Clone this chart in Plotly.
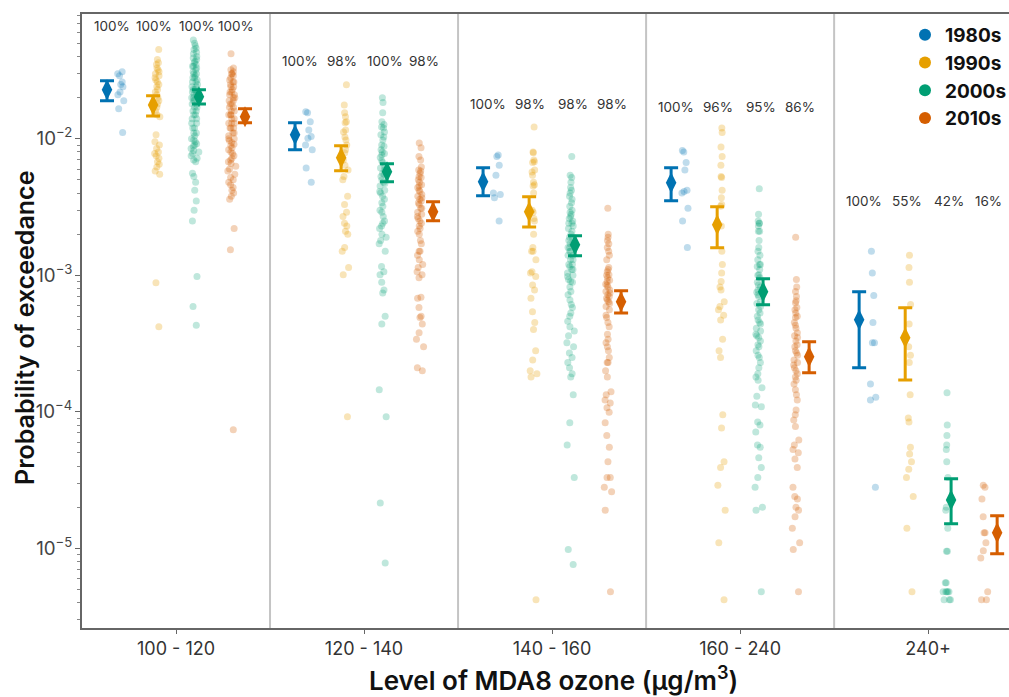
import math
import plotly.graph_objects as go

groups = ["100 - 120", "120 - 140", "140 - 160", "160 - 240", "240+"]
decades = ["1980s", "1990s", "2000s", "2010s"]
colors = ["#0072B2", "#E69F00", "#009E73", "#D55E00"]
point_colors = ["rgba(0,114,178,0.25)", "rgba(230,159,0,0.28)",
                "rgba(0,158,115,0.25)", "rgba(213,94,0,0.28)"]

# percentage labels per group (rows) and decade (cols)
pct_labels = [
    ["100%", "100%", "100%", "100%"],
    ["100%", "98%", "100%", "98%"],
    ["100%", "98%", "98%", "98%"],
    ["100%", "96%", "95%", "86%"],
    ["100%", "55%", "42%", "16%"],
]
label_height = [0.067, 0.037, 0.018, 0.017, 0.0035]

# means and confidence intervals per group
mean_1980s = [0.0229, 0.0107, 0.00484, 0.00477, 0.000472]
hi_1980s = [0.0266, 0.0131, 0.00614, 0.00614, 0.000757]
lo_1980s = [0.0190, 0.0083, 0.00382, 0.00352, 0.00021]

mean_1990s = [0.0177, 0.00726, 0.00292, 0.00234, 0.000348]
hi_1990s = [0.0207, 0.0089, 0.00376, 0.00318, 0.000578]
lo_1990s = [0.0147, 0.00583, 0.00226, 0.00159, 0.000171]

mean_2000s = [0.0203, 0.00573, 0.00167, 0.000757, 0.0000226]
hi_2000s = [0.0229, 0.00656, 0.00195, 0.000942, 0.0000323]
lo_2000s = [0.0180, 0.00484, 0.00139, 0.000608, 0.0000151]

mean_2010s = [0.0145, 0.00292, 0.00064, 0.000253, 0.000013]
hi_2010s = [0.0166, 0.00345, 0.00077, 0.000326, 0.0000173]
lo_2010s = [0.0131, 0.00251, 0.00053, 0.000193, 0.0000091]

# individual station values
pts_1980s = [
    [0.031, 0.030, 0.029, 0.026, 0.025, 0.024, 0.022, 0.021, 0.019, 0.0166, 0.0111],
    [0.0158, 0.0155, 0.0133, 0.0116, 0.0104, 0.0101, 0.0090, 0.0083, 0.0061, 0.0048],
    [0.0076, 0.0074, 0.0064, 0.0054, 0.0040, 0.0039, 0.0037, 0.0025],
    [0.0082, 0.0080, 0.0067, 0.0059, 0.0042, 0.0041, 0.0040, 0.0031, 0.0025, 0.0016],
    [0.0015, 0.00104, 0.00071, 0.00045, 0.00032, 0.00032, 0.00016, 0.000128, 0.000122, 0.000028],
]

pts_1990s = [
    [0.045, 0.038, 0.036, 0.035, 0.033, 0.032, 0.031, 0.030, 0.029, 0.028, 0.027, 0.026,
     0.025, 0.024, 0.023, 0.022, 0.021, 0.020, 0.019, 0.018, 0.017, 0.016, 0.015, 0.0145,
     0.0107, 0.0095, 0.0090, 0.0085, 0.0080, 0.0078, 0.0075, 0.0072, 0.0068, 0.0065,
     0.0062, 0.0058, 0.0055, 0.00088, 0.00042],
    [0.0249, 0.0177, 0.0155, 0.0145, 0.0133, 0.0131, 0.0116, 0.0112, 0.0103, 0.0098,
     0.0090, 0.0083, 0.0079, 0.0070, 0.0064, 0.0059, 0.0053, 0.0050, 0.0038, 0.0033,
     0.0029, 0.0027, 0.0024, 0.0023, 0.0021, 0.0020, 0.0016, 0.0015, 0.00114, 0.00101,
     0.000092],
    [0.0122, 0.0080, 0.0079, 0.0070, 0.0068, 0.0067, 0.0059, 0.0057, 0.0054, 0.0048,
     0.0046, 0.0045, 0.0040, 0.0030, 0.0029, 0.0026, 0.0025, 0.0020, 0.0016, 0.0015,
     0.0015, 0.0013, 0.00106, 0.00104, 0.00098, 0.00085, 0.00078, 0.00068, 0.00054,
     0.00045, 0.00040, 0.00028, 0.00024, 0.00020, 0.00019, 0.00018, 0.0000042],
    [0.0120, 0.0111, 0.0087, 0.0074, 0.0064, 0.0053, 0.0052, 0.0042, 0.0037, 0.0033,
     0.0032, 0.0023, 0.0015, 0.0012, 0.00104, 0.00090, 0.00082, 0.00078, 0.00064,
     0.00059, 0.00056, 0.00051, 0.00047, 0.00034, 0.00028, 0.00025, 0.000095, 0.000076,
     0.000043, 0.000039, 0.000029, 0.000019, 0.000011, 0.0000042],
    [0.0014, 0.00114, 0.00089, 0.00061, 0.00044, 0.00030, 0.00026, 0.00023, 0.000133,
     0.000090, 0.000084, 0.000055, 0.000049, 0.000043, 0.000038, 0.000033, 0.000024,
     0.000014, 0.0000048],
]

pts_2000s = [
    [0.053, 0.050, 0.048, 0.046, 0.045, 0.043, 0.042, 0.040, 0.039, 0.038, 0.037, 0.036,
     0.035, 0.034, 0.034, 0.033, 0.032, 0.031, 0.030, 0.030, 0.029, 0.028, 0.028, 0.027,
     0.026, 0.026, 0.025, 0.024, 0.024, 0.023, 0.023, 0.022, 0.022, 0.021, 0.021, 0.020,
     0.020, 0.019, 0.019, 0.018, 0.018, 0.017, 0.017, 0.016, 0.016, 0.015, 0.015, 0.014,
     0.014, 0.013, 0.013, 0.012, 0.012, 0.011, 0.011, 0.0105, 0.010, 0.0098, 0.0095,
     0.0092, 0.009, 0.0088, 0.0085, 0.0082, 0.008, 0.0078, 0.0075, 0.0072, 0.007, 0.0068,
     0.0056, 0.0053, 0.0048, 0.0042, 0.0035, 0.0030, 0.0025, 0.00098, 0.00059, 0.00043],
    [0.0200, 0.0184, 0.0155, 0.0133, 0.0127, 0.0122, 0.0120, 0.0112, 0.0107, 0.0103,
     0.0098, 0.0090, 0.0088, 0.0083, 0.0080, 0.0078, 0.0076, 0.0073, 0.0069, 0.0067,
     0.0062, 0.0061, 0.0059, 0.0056, 0.0055, 0.0053, 0.0050, 0.0048, 0.0047, 0.0045,
     0.0042, 0.0041, 0.0040, 0.0038, 0.0036, 0.0034, 0.0032, 0.0030, 0.0029, 0.0027,
     0.0025, 0.0024, 0.0023, 0.0022, 0.0020, 0.0019, 0.0018, 0.0017, 0.0015, 0.00116,
     0.00106, 0.00101, 0.00089, 0.00078, 0.00074, 0.00050, 0.00044, 0.000145, 0.000092,
     0.0000215, 0.0000078],
    [0.0074, 0.0054, 0.0052, 0.0048, 0.0044, 0.0042, 0.0040, 0.0038, 0.0036, 0.0034,
     0.0032, 0.0030, 0.0029, 0.0028, 0.0027, 0.0026, 0.0025, 0.0024, 0.0024, 0.0023,
     0.0022, 0.0021, 0.0020, 0.0019, 0.0019, 0.0018, 0.0017, 0.0017, 0.0016, 0.0016,
     0.0015, 0.0015, 0.0014, 0.0014, 0.0013, 0.0013, 0.0012, 0.0012, 0.00116, 0.0011,
     0.0011, 0.00104, 0.0010, 0.00098, 0.00093, 0.0009, 0.00089, 0.00082, 0.00076,
     0.00072, 0.00066, 0.00061, 0.00058, 0.00053, 0.00050, 0.00046, 0.00042, 0.00039,
     0.00036, 0.00032, 0.00030, 0.00027, 0.00025, 0.00023, 0.00021, 0.00019, 0.00018,
     0.000133, 0.000083, 0.000057, 0.000033, 0.0000098, 0.0000076],
    [0.0043, 0.0028, 0.0025, 0.0024, 0.0024, 0.0023, 0.0021, 0.0021, 0.0018, 0.0016,
     0.0015, 0.0014, 0.0013, 0.0012, 0.0012, 0.00116, 0.0011, 0.00101, 0.0010, 0.00096,
     0.00089, 0.00085, 0.00082, 0.00078, 0.00075, 0.00072, 0.0007, 0.00064, 0.00062,
     0.00059, 0.00056, 0.00053, 0.0005, 0.00047, 0.00045, 0.00044, 0.00041, 0.00039,
     0.00037, 0.00036, 0.00035, 0.00033, 0.00031, 0.0003, 0.00028, 0.00026, 0.00025,
     0.00023, 0.00021, 0.00019, 0.00018, 0.00017, 0.00015, 0.00013, 0.000112, 0.000109,
     0.000084, 0.00008, 0.000071, 0.000057, 0.000055, 0.000046, 0.000039, 0.000033,
     0.000028, 0.00002, 0.000019, 0.0000048],
    [0.000138, 0.00008, 0.000067, 0.000057, 0.000053, 0.000043, 0.000033, 0.00002,
     0.000019, 0.000014, 0.0000095, 0.0000095, 0.0000056, 0.0000056, 0.0000048,
     0.0000048, 0.0000048, 0.0000048, 0.0000048, 0.0000042, 0.0000042, 0.0000042],
]

pts_2010s = [
    [0.042, 0.033, 0.032, 0.031, 0.030, 0.030, 0.029, 0.028, 0.027, 0.026, 0.026, 0.025,
     0.024, 0.024, 0.023, 0.022, 0.022, 0.021, 0.021, 0.020, 0.020, 0.019, 0.019, 0.018,
     0.018, 0.017, 0.017, 0.016, 0.016, 0.015, 0.015, 0.015, 0.014, 0.014, 0.013, 0.013,
     0.013, 0.012, 0.012, 0.012, 0.011, 0.011, 0.0105, 0.010, 0.010, 0.0097, 0.0094,
     0.0091, 0.0089, 0.0086, 0.0083, 0.008, 0.0078, 0.0075, 0.0072, 0.007, 0.0068,
     0.0066, 0.0063, 0.006, 0.0058, 0.0055, 0.0052, 0.005, 0.0048, 0.0046, 0.0044,
     0.0042, 0.004, 0.0038, 0.0036, 0.0022, 0.00154, 0.000074],
    [0.0093, 0.0086, 0.0074, 0.0070, 0.0062, 0.0059, 0.0058, 0.0056, 0.0053, 0.0052,
     0.0050, 0.0048, 0.0046, 0.0045, 0.0044, 0.0042, 0.0041, 0.0039, 0.0038, 0.0037,
     0.0036, 0.0035, 0.0034, 0.0033, 0.0031, 0.0031, 0.0029, 0.0028, 0.0027, 0.0026,
     0.0025, 0.0024, 0.0023, 0.0022, 0.0021, 0.0020, 0.0018, 0.0017, 0.0015, 0.0015,
     0.0014, 0.0013, 0.0012, 0.00114, 0.00106, 0.00101, 0.00096, 0.00069, 0.00068,
     0.00058, 0.00050, 0.00049, 0.00044, 0.00038, 0.00034, 0.00030, 0.00021, 0.00020],
    [0.0031, 0.0020, 0.0019, 0.0018, 0.0017, 0.0016, 0.0015, 0.0014, 0.0013, 0.00114,
     0.0011, 0.00106, 0.00101, 0.0010, 0.00096, 0.00092, 0.00090, 0.00086, 0.00085,
     0.00082, 0.00078, 0.00076, 0.00074, 0.00072, 0.0007, 0.00068, 0.00066, 0.00064,
     0.00062, 0.00059, 0.00056, 0.00051, 0.00049, 0.00045, 0.00042, 0.00037, 0.00034,
     0.00032, 0.00030, 0.00028, 0.00025, 0.00023, 0.00023, 0.00020, 0.00018, 0.00014,
     0.000133, 0.000122, 0.000116, 0.000107, 0.000099, 0.000083, 0.000067, 0.000055,
     0.000043, 0.000033, 0.000033, 0.000028, 0.000026, 0.000019, 0.0000048],
    [0.0019, 0.00093, 0.00082, 0.00076, 0.0007, 0.00065, 0.00063, 0.00058, 0.00056,
     0.00053, 0.0005, 0.00049, 0.00045, 0.00043, 0.00041, 0.00038, 0.00036, 0.00035,
     0.00033, 0.00031, 0.0003, 0.00028, 0.00027, 0.00026, 0.00024, 0.00023, 0.00022,
     0.00021, 0.0002, 0.00019, 0.00018, 0.00017, 0.00016, 0.000145, 0.000133, 0.000122,
     0.000103, 0.000095, 0.000087, 0.000078, 0.000062, 0.000057, 0.000053, 0.00005,
     0.000045, 0.000039, 0.000028, 0.000024, 0.000023, 0.00002, 0.000019, 0.000017,
     0.000014, 0.000011, 0.0000098, 0.0000048],
    [0.000029, 0.000028, 0.000023, 0.000017, 0.000013, 0.000013, 0.000011, 0.0000096,
     0.0000085, 0.0000048, 0.0000042, 0.0000042],
]

all_pts = [pts_1980s, pts_1990s, pts_2000s, pts_2010s]
all_mean = [mean_1980s, mean_1990s, mean_2000s, mean_2010s]
all_hi = [hi_1980s, hi_1990s, hi_2000s, hi_2010s]
all_lo = [lo_1980s, lo_1990s, lo_2000s, lo_2010s]

strip_offset = [-0.293, -0.098, 0.10, 0.298]
mean_offset = [-0.367, -0.122, 0.122, 0.367]
label_offset = [-0.34, -0.115, 0.11, 0.32]

FONT = "Inter"

fig = go.Figure()

for d in range(4):
    for g in range(5):
        vals = all_pts[d][g]
        fig.add_trace(go.Box(
            x=[g + strip_offset[d]] * len(vals), y=vals,
            boxpoints="all", jitter=1, pointpos=0, width=0.048,
            fillcolor="rgba(0,0,0,0)", line=dict(width=0, color="rgba(0,0,0,0)"),
            marker=dict(color=point_colors[d], size=7, line=dict(width=0)),
            showlegend=False, hoverinfo="y",
        ))

for d in range(4):
    xs = [g + mean_offset[d] for g in range(5)]
    m = all_mean[d]
    up = [h - v for h, v in zip(all_hi[d], m)]
    dn = [v - l for l, v in zip(all_lo[d], m)]
    fig.add_trace(go.Scatter(
        x=xs, y=m, mode="markers",
        marker=dict(symbol="diamond-tall", size=15, color=colors[d], line=dict(width=0)),
        error_y=dict(type="data", symmetric=False, array=up, arrayminus=dn,
                     color=colors[d], thickness=3, width=7),
        showlegend=False, hoverinfo="y",
    ))

for d in range(4):
    fig.add_trace(go.Scatter(
        x=[None], y=[None], mode="markers", name=decades[d],
        marker=dict(symbol="circle", size=15, color=colors[d]),
    ))

for g in range(5):
    for d in range(4):
        fig.add_annotation(
            x=g + label_offset[d], y=math.log10(label_height[g]),
            text=pct_labels[g][d], showarrow=False,
            font=dict(family=FONT, size=13.5, color="#333333"),
        )

# axis titles
fig.add_annotation(
    xref="paper", yref="paper", x=(25 - 82) / 927, y=(628 - 328) / 614,
    text="Probability of exceedance", textangle=-90, showarrow=False,
    xanchor="center", yanchor="middle",
    font=dict(family=FONT, size=25, color="#111111", weight=600),
)
fig.add_annotation(
    xref="paper", yref="paper", x=(553 - 82) / 927, y=(628 - 678) / 614,
    text="Level of MDA8 ozone (μg/m<sup>3</sup>)", showarrow=False,
    xanchor="center", yanchor="middle",
    font=dict(family=FONT, size=26, color="#111111", weight=600),
)

for b in [0.5, 1.5, 2.5, 3.5]:
    fig.add_shape(type="line", xref="x", yref="paper", x0=b, x1=b, y0=0, y1=1,
                  line=dict(color="#c4c4c4", width=2), layer="below")

fig.update_layout(
    width=1009, height=697,
    margin=dict(l=82, r=0, t=14, b=69, autoexpand=False),
    paper_bgcolor="white", plot_bgcolor="white",
    font=dict(family=FONT, color="#333333"),
    legend=dict(xref="container", yref="container",
                x=905 / 1009, y=1 - 16 / 697, xanchor="left", yanchor="top",
                font=dict(family=FONT, size=19, color="#111111", weight=700),
                itemsizing="constant", tracegroupgap=0, bgcolor="rgba(0,0,0,0)",
                itemwidth=30),
    xaxis=dict(
        range=[-0.5, 4.43], tickvals=[0, 1, 2, 3, 4], ticktext=groups,
        showline=True, linecolor="#666666", linewidth=1.5, mirror=True,
        ticks="outside", ticklen=4, tickcolor="#666666",
        showgrid=False, zeroline=False,
        tickfont=dict(family=FONT, size=18, color="#333333"),
    ),
    yaxis=dict(
        type="log", range=[-5.584, -1.086], dtick=1, exponentformat="power",
        showline=True, linecolor="#666666", linewidth=1.5,
        ticks="outside", ticklen=5, tickcolor="#666666",
        minor=dict(ticks="outside", ticklen=3, tickcolor="#888888", dtick="D1", showgrid=False),
        showgrid=False, zeroline=False,
        tickfont=dict(family=FONT, size=15, color="#444444"),
    ),
)

fig.write_html("out.html")
